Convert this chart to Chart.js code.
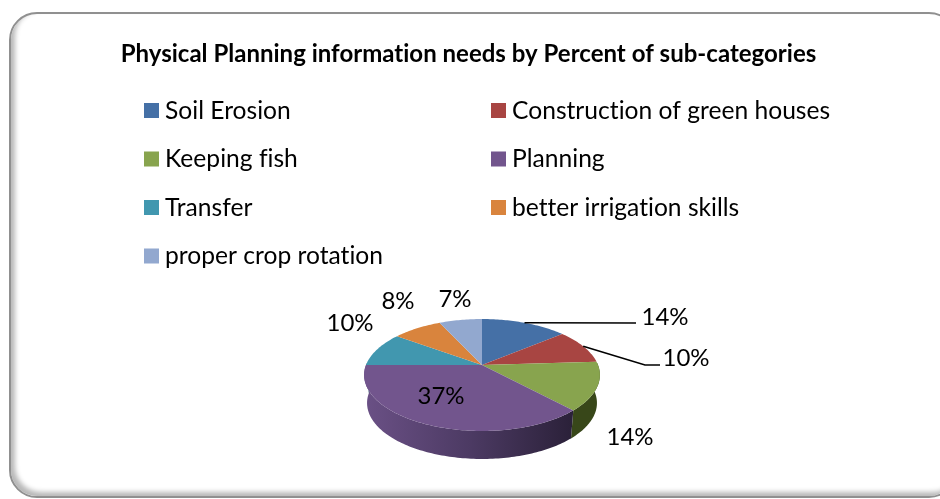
<!DOCTYPE html>
<html>
<head>
<meta charset="utf-8">
<script src="https://cdn.jsdelivr.net/npm/chart.js@4"></script>
<style>
  html, body { margin: 0; padding: 0; background: #fff; overflow: hidden; }
  #wrap { position: relative; width: 940px; height: 499px; overflow: hidden; }
  #frame {
    position: absolute; left: 9px; top: 12px; width: 948px; height: 486px;
    border: 2px solid #909090; border-radius: 28px; box-sizing: border-box;
    box-shadow: inset 4px -4px 5px #b8b8b8;
  }
  canvas { position: absolute; left: 0; top: 0; }
</style>
</head>
<body>
<div id="wrap">
  <div id="frame"></div>
  <canvas id="pie" width="940" height="499"></canvas>
</div>
<script>
// ---- data ----
const categories = [
  "Soil Erosion",
  "Construction of green houses",
  "Keeping fish",
  "Planning",
  "Transfer",
  "better irrigation skills",
  "proper crop rotation",
];
const percents = [14, 10, 14, 37, 10, 8, 7];
const colors = ["#4570a6", "#a84542", "#88a44e", "#72558d", "#4197af", "#d9843d", "#92a8cf"];
const sideColors = ["#2f4c71", "#70302d", "#384719", "#4f3a66", "#2b6677", "#94592a", "#64728c"];

const chartTitle = "Physical Planning information needs by Percent of sub-categories";
const FONT = "Lato, 'Open Sans', sans-serif";

// ---- tilted pie look ----
const TILT = { yScale: 0.467, persp: 0.1786, depth: 28, bottomShrink: 0.975 };
// label centres and leader lines, relative to the pie apex
const LABEL_POS = [[183, -48], [204, -7], [148, 72], [-41, 31], [-132, -42], [-84, -64], [-27, -66]];
const LEADERS = { 0: [[154, -42]], 1: [[163, 0], [178, 0]] };

function project(arc, angle) {
  // angle 0 = 12 o'clock, perspective pulls the far side in
  const a = angle + Math.PI / 2;
  const r = arc.outerRadius;
  const c = Math.cos(a);
  const den = 1 + TILT.persp * c;
  return {
    x: arc.x + (r * Math.sin(a)) / den,
    y: arc.y - (r * TILT.yScale * c) / den,
  };
}

function rimAngles(arc) {
  const out = [];
  const n = Math.max(2, Math.ceil((arc.endAngle - arc.startAngle) / 0.02));
  for (let i = 0; i <= n; i++) {
    out.push(arc.startAngle + ((arc.endAngle - arc.startAngle) * i) / n);
  }
  return out;
}

const tiltedPie = {
  id: "tiltedPie",
  beforeDatasetsDraw(chart) {
    const ctx = chart.ctx;
    const arcs = chart.getDatasetMeta(0).data;
    const apex = arcs[0];

    ctx.save();
    // side wall: near part of the rim pushed down
    arcs.forEach((arc, i) => {
      const near = rimAngles(arc)
        .filter((a) => Math.cos(a + Math.PI / 2) < 0.05)
        .map((a) => project(arc, a));
      if (near.length < 2) return;
      ctx.beginPath();
      near.forEach((p, k) => (k ? ctx.lineTo(p.x, p.y) : ctx.moveTo(p.x, p.y)));
      near.slice().reverse().forEach((p) => {
        ctx.lineTo(apex.x + (p.x - apex.x) * TILT.bottomShrink, p.y + TILT.depth);
      });
      ctx.closePath();
      if (i === 3) {
        const g = ctx.createLinearGradient(apex.x - arc.outerRadius, 0, apex.x + arc.outerRadius * 0.8, 0);
        g.addColorStop(0, "#6a5085");
        g.addColorStop(0.5, "#4c3a63");
        g.addColorStop(1, "#2a2038");
        ctx.fillStyle = g;
      } else {
        ctx.fillStyle = sideColors[i];
      }
      ctx.fill();
    });

    // top face
    arcs.forEach((arc, i) => {
      ctx.beginPath();
      ctx.moveTo(arc.x, arc.y);
      rimAngles(arc).forEach((a) => {
        const p = project(arc, a);
        ctx.lineTo(p.x, p.y);
      });
      ctx.closePath();
      ctx.fillStyle = colors[i];
      ctx.fill();
    });
    ctx.restore();
    return false;
  },
  afterDraw(chart) {
    const ctx = chart.ctx;
    const arcs = chart.getDatasetMeta(0).data;
    const apex = arcs[0];

    ctx.save();
    // leader lines start on the rim, at the middle of the slice
    ctx.strokeStyle = "#000";
    ctx.lineWidth = 1.6;
    Object.keys(LEADERS).forEach((k) => {
      const arc = arcs[k];
      const start = project(arc, (arc.startAngle + arc.endAngle) / 2);
      ctx.beginPath();
      ctx.moveTo(start.x, start.y);
      LEADERS[k].forEach((p) => ctx.lineTo(apex.x + p[0], apex.y + p[1]));
      ctx.stroke();
    });

    // tiny spacing switches off the Lato "ti" ligatures
    ctx.letterSpacing = "0.01px";
    ctx.fillStyle = "#000";
    ctx.font = "24px " + FONT;
    ctx.textAlign = "center";
    ctx.textBaseline = "middle";
    percents.forEach((v, i) => {
      ctx.fillText(v + "%", apex.x + LABEL_POS[i][0], apex.y + LABEL_POS[i][1]);
    });

    ctx.font = "bold 24px " + FONT;
    ctx.fillText(chartTitle, 468.5, 54);

    // legend in two columns, same as the original layout
    ctx.font = "24.6px " + FONT;
    ctx.textAlign = "left";
    categories.forEach((name, i) => {
      const col = i % 2;
      const row = Math.floor(i / 2);
      const x = col ? 491 : 144;
      const y = 110 + row * 48.5;
      ctx.fillStyle = colors[i];
      ctx.fillRect(x, y - 7, 15, 15);
      ctx.fillStyle = "#000";
      ctx.fillText(name, x + 21, y + 1);
    });
    ctx.restore();
  },
};

// ---- chart ----
new Chart(document.getElementById("pie").getContext("2d"), {
  type: "pie",
  data: {
    labels: categories,
    datasets: [{ data: percents, backgroundColor: colors, borderWidth: 0 }],
  },
  options: {
    responsive: false,
    animation: false,
    layout: { padding: { left: 366, right: 342, top: 249, bottom: 18 } },
    plugins: {
      legend: { display: false },
      tooltip: { enabled: false },
    },
  },
  plugins: [tiltedPie],
});
</script>
</body>
</html>
